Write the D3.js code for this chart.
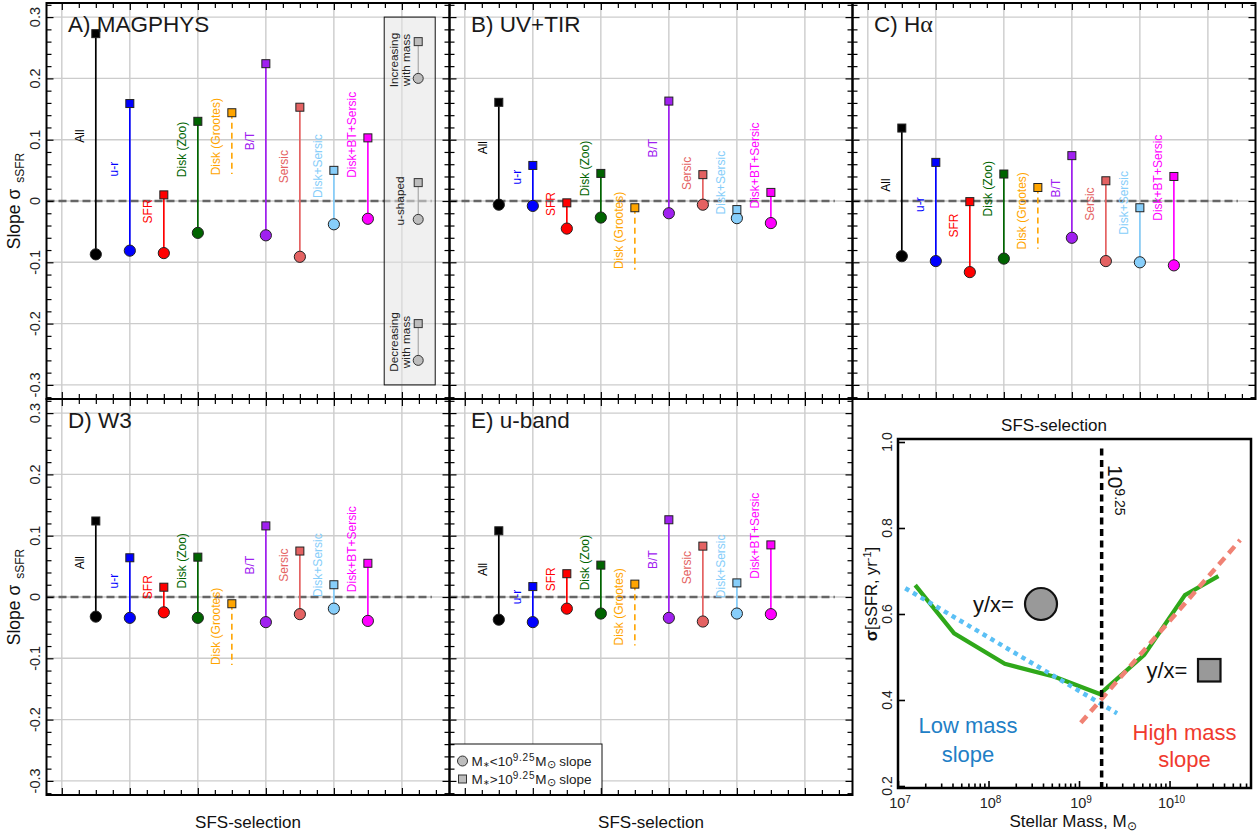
<!DOCTYPE html>
<html><head><meta charset="utf-8">
<script src="https://cdn.jsdelivr.net/npm/d3@7"></script>
<style>
body{margin:0;background:#fff}
svg{display:block;font-family:"Liberation Sans",Arial,Helvetica,sans-serif}
</style>
</head><body>
<svg id="c" width="1259" height="837"></svg>
<script>
// ---------------- DATA ----------------
const categories = ["All","u-r","SFR","Disk (Zoo)","Disk (Grootes)","B/T","Sersic","Disk+Sersic","Disk+BT+Sersic"];
const catColors  = ["#000000","#0000ff","#ff0000","#006400","#ffa500","#a020f0","#e46262","#87cefa","#ff00ff"];
const panelNames = ["A) MAGPHYS","B) UV+TIR","C) H\u03b1","D) W3","E) u-band"];

// slope above 10^9.25 (squares) and below (circles); null = not measured
const highA = [0.273, 0.159, 0.010, 0.130, 0.144, 0.224, 0.153, 0.050, 0.103];
const lowA  = [-0.087,-0.081,-0.085,-0.052, null,-0.056,-0.091,-0.038,-0.029];
const highB = [0.161, 0.058,-0.003, 0.045,-0.011, 0.163, 0.043,-0.014, 0.014];
const lowB  = [-0.006,-0.008,-0.045,-0.027, null,-0.020,-0.006,-0.028,-0.036];
const highC = [0.119, 0.063,-0.001, 0.044, 0.022, 0.074, 0.033,-0.011, 0.040];
const lowC  = [-0.090,-0.098,-0.116,-0.094, null,-0.060,-0.098,-0.100,-0.105];
const highD = [0.124, 0.064, 0.016, 0.065,-0.011, 0.116, 0.075, 0.020, 0.055];
const lowD  = [-0.032,-0.034,-0.025,-0.034, null,-0.041,-0.028,-0.019,-0.039];
const highE = [0.108, 0.017, 0.038, 0.052, 0.021, 0.126, 0.083, 0.023, 0.085];
const lowE  = [-0.037,-0.041,-0.019,-0.027, null,-0.034,-0.040,-0.027,-0.028];
// end of the dashed Grootes line, per panel
const grootesDashEnd = [0.044,-0.112,-0.078,-0.111,-0.079];
// label anchor (slope units) for each category label, per panel
const labelA = [0.106, 0.052,-0.017, 0.084, 0.105, 0.098, 0.056, 0.057, 0.108];
const labelB = [0.087, 0.039,-0.005, 0.053,-0.048, 0.086, 0.045, 0.030, 0.058];
const labelC = [0.026,-0.006,-0.040, 0.020,-0.016, 0.021,-0.005,-0.003, 0.038];
const labelD = [0.056, 0.026, 0.016, 0.059,-0.048, 0.052, 0.052, 0.052, 0.078];
const labelE = [0.045, 0.000, 0.029, 0.056,-0.016, 0.061, 0.048, 0.050, 0.100];

const yTickValues = [-0.3,-0.2,-0.1,0,0.1,0.2,0.3];
const yTickLabels = ["-0.3","-0.2","-0.1","0","0.1","0.2","0.3"];

// trend legend (panel A)
const trendSquares = [0.26, 0.03, -0.20];
const trendCircles = [0.20,-0.03, -0.26];
const trendText    = [["Increasing","with mass"],["u-shaped"],["Decreasing","with mass"]];
const trendTextY   = [0.23, 0.0, -0.23];

// inset: sigma(sSFR) vs log stellar mass
const insetLogMass = [7.19, 7.62, 8.18, 8.73, 9.23, 9.72, 10.17, 10.54];
const insetSigma   = [0.667,0.555,0.484,0.454,0.414,0.505,0.644,0.688];
const lowFitLogMass  = [7.08, 9.42];
const lowFitSigma    = [0.660, 0.369];
const highFitLogMass = [9.02, 10.78];
const highFitSigma   = [0.347, 0.772];
const breakLogMass = 9.25;
const insetYTicks = [0.2,0.4,0.6,0.8,1.0];
const insetYTickLabels = ["0.2","0.4","0.6","0.8","1.0"];
const insetDecades = [7,8,9,10];

// ---------------- DRAW ----------------
const svg = d3.select("#c");
const PW = 403, PH = 396;
const panels = [
  {name:panelNames[0], left:46.5, top:3,   high:highA, low:lowA, lab:labelA, dash:grootesDashEnd[0], yLab:true,  xTitle:false, trend:true},
  {name:panelNames[1], left:449.5,top:3,   high:highB, low:lowB, lab:labelB, dash:grootesDashEnd[1], yLab:false, xTitle:false},
  {name:panelNames[2], left:852.5,top:3,   high:highC, low:lowC, lab:labelC, dash:grootesDashEnd[2], yLab:false, xTitle:false},
  {name:panelNames[3], left:46.5, top:399, high:highD, low:lowD, lab:labelD, dash:grootesDashEnd[3], yLab:true,  xTitle:true},
  {name:panelNames[4], left:449.5,top:399, high:highE, low:lowE, lab:labelE, dash:grootesDashEnd[4], yLab:false, xTitle:true, massLegend:true}
];

const gridColor = "#cccccc";

panels.forEach(p => {
  const g = svg.append("g");
  const x = d3.scaleLinear().domain([-0.45, 11.4]).range([p.left, p.left+PW]);
  const y = d3.scaleLinear().domain([-0.323, 0.323]).range([p.top+PH, p.top]);
  const xi = i => x(i+1);

  // grid
  g.selectAll(".vg").data(d3.range(0, 11, 2)).join("line")
    .attr("x1", d=>x(d)).attr("x2", d=>x(d)).attr("y1", p.top).attr("y2", p.top+PH)
    .attr("stroke", gridColor).attr("stroke-width", 1.4);
  g.selectAll(".hg").data(yTickValues).join("line")
    .attr("x1", p.left).attr("x2", p.left+PW).attr("y1", d=>y(d)).attr("y2", d=>y(d))
    .attr("stroke", gridColor).attr("stroke-width", 1.4);

  // zero line
  g.append("line").attr("x1", x(-0.45)).attr("x2", x(10.88)).attr("y1", y(0)).attr("y2", y(0))
    .attr("stroke", "#666").attr("stroke-width", 2.3).attr("stroke-dasharray", "8,4");

  // stems
  categories.forEach((c, i) => {
    if (p.low[i] === null) {
      g.append("line").attr("x1", xi(i)).attr("x2", xi(i)).attr("y1", y(p.high[i])).attr("y2", y(p.dash))
        .attr("stroke", catColors[i]).attr("stroke-width", 1.6).attr("stroke-dasharray", "6,4");
    } else {
      g.append("line").attr("x1", xi(i)).attr("x2", xi(i)).attr("y1", y(p.high[i])).attr("y2", y(p.low[i]))
        .attr("stroke", catColors[i]).attr("stroke-width", 1.7);
    }
  });
  // circles
  categories.forEach((c, i) => {
    if (p.low[i] !== null)
      g.append("circle").attr("cx", xi(i)).attr("cy", y(p.low[i])).attr("r", 5.6)
        .attr("fill", catColors[i]).attr("stroke", "#222").attr("stroke-width", 1);
  });
  // squares
  categories.forEach((c, i) => {
    g.append("rect").attr("x", xi(i)-4).attr("y", y(p.high[i])-4).attr("width", 8).attr("height", 8)
      .attr("fill", catColors[i]).attr("stroke", "#222").attr("stroke-width", 1);
  });
  // labels
  categories.forEach((c, i) => {
    g.append("text").attr("transform", `translate(${xi(i)-12},${y(p.lab[i])}) rotate(-90)`)
      .attr("text-anchor", "middle").attr("font-size", 12).attr("fill", catColors[i]).text(c);
  });

  // trend legend
  if (p.trend) {
    const lg = g.append("g");
    lg.append("rect").attr("x", x(9.48)).attr("y", y(0.3)).attr("width", x(10.98)-x(9.48)).attr("height", y(-0.3)-y(0.3))
      .attr("fill", "#e3e3e3").attr("fill-opacity", 0.55).attr("stroke", "#111").attr("stroke-width", 1);
    trendSquares.forEach((s, k) => {
      lg.append("line").attr("x1", x(10.48)).attr("x2", x(10.48)).attr("y1", y(s)).attr("y2", y(trendCircles[k]))
        .attr("stroke", "#999").attr("stroke-width", 1);
      lg.append("circle").attr("cx", x(10.48)).attr("cy", y(trendCircles[k])).attr("r", 5)
        .attr("fill", "#bdbdbd").attr("stroke", "#333").attr("stroke-width", 1);
      lg.append("rect").attr("x", x(10.48)-4).attr("y", y(s)-4).attr("width", 8).attr("height", 8)
        .attr("fill", "#bdbdbd").attr("stroke", "#333").attr("stroke-width", 1);
      const lines = trendText[k];
      lines.forEach((t, j) => {
        const bx = lines.length === 1 ? x(10.07) : (j === 0 ? x(9.9) : x(10.24));
        lg.append("text").attr("transform", `translate(${bx},${y(trendTextY[k])}) rotate(-90)`)
          .attr("text-anchor", "middle").attr("font-size", 11.8).attr("fill", "#222").text(t);
      });
    });
  }

  // mass legend
  if (p.massLegend) {
    const lg = g.append("g");
    lg.append("rect").attr("x", p.left+0.5).attr("y", 744).attr("width", 152).attr("height", p.top+PH-744)
      .attr("fill", "#fff").attr("stroke", "#111").attr("stroke-width", 1);
    lg.append("circle").attr("cx", p.left+13).attr("cy", 761).attr("r", 5)
      .attr("fill", "#bdbdbd").attr("stroke", "#333");
    lg.append("rect").attr("x", p.left+9).attr("y", 775).attr("width", 8).attr("height", 8)
      .attr("fill", "#bdbdbd").attr("stroke", "#333");
    [["<", 765.5], [">", 783.5]].forEach(([op, by]) => {
      const t = lg.append("text").attr("x", p.left+22).attr("y", by).attr("font-size", 13.5).attr("fill", "#222");
      t.append("tspan").text("M");
      t.append("tspan").attr("font-size", 8).attr("dy", 1).text("\u2217");
      t.append("tspan").attr("dy", -1).text(op + "10");
      t.append("tspan").attr("font-size", 10).attr("dy", -5).attr("letter-spacing", 0.8).text("9.25");
      t.append("tspan").attr("dy", 5).text("M");
      t.append("tspan").attr("font-size", 10.5).attr("dy", 2).text("\u2299");
      t.append("tspan").attr("dy", -2).text(" slope");
    });
  }

  // ticks on all four sides (inward)
  const xt = d3.range(0, 11.01, 0.5);
  const xMaj = xt.filter(v => v % 2 === 0), xMin = xt.filter(v => v % 2 !== 0);
  const yt = d3.range(-0.32, 0.321, 0.02).map(v => +v.toFixed(2));
  const yMaj = yt.filter(v => Math.abs(Math.round(v*10) - v*10) < 1e-6);
  const yMin = yt.filter(v => !yMaj.includes(v));
  const strip = s => { s.select(".domain").remove(); s.selectAll("line").attr("stroke", "#000").attr("stroke-width", 1.2); };
  const add = (axis, tr) => g.append("g").attr("transform", tr).call(axis).call(strip);
  add(d3.axisTop(x).tickValues(xMaj).tickSize(7).tickFormat(""), `translate(0,${p.top+PH})`);
  add(d3.axisTop(x).tickValues(xMin).tickSize(5).tickFormat(""), `translate(0,${p.top+PH})`);
  add(d3.axisBottom(x).tickValues(xMaj).tickSize(7).tickFormat(""), `translate(0,${p.top})`);
  add(d3.axisBottom(x).tickValues(xMin).tickSize(5).tickFormat(""), `translate(0,${p.top})`);
  add(d3.axisRight(y).tickValues(yMaj).tickSize(7).tickFormat(""), `translate(${p.left},0)`);
  add(d3.axisRight(y).tickValues(yMin).tickSize(5).tickFormat(""), `translate(${p.left},0)`);
  add(d3.axisLeft(y).tickValues(yMaj).tickSize(7).tickFormat(""), `translate(${p.left+PW},0)`);
  add(d3.axisLeft(y).tickValues(yMin).tickSize(5).tickFormat(""), `translate(${p.left+PW},0)`);

  // frame
  g.append("rect").attr("x", p.left).attr("y", p.top).attr("width", PW).attr("height", PH)
    .attr("fill", "none").attr("stroke", "#000").attr("stroke-width", 2);

  // title
  const tt = g.append("text").attr("x", p.left+21.5).attr("y", p.top+29).attr("font-size", 22.5).attr("fill", "#1a1a1a");
  if (p.name.endsWith("\u03b1")) {
    tt.append("tspan").text(p.name.slice(0, -1));
    tt.append("tspan").attr("font-family", "'Liberation Serif','DejaVu Serif',serif").attr("font-size", 24).text("\u03b1");
  } else tt.text(p.name);

  // y tick labels + title
  if (p.yLab) {
    yTickValues.forEach((v, k) => {
      g.append("text").attr("transform", `translate(40,${y(v)}) rotate(-90)`).attr("text-anchor", "middle")
        .attr("font-size", 14.5).attr("fill", "#222").text(yTickLabels[k]);
    });
    const yt2 = g.append("text").attr("transform", `translate(20,${y(0)}) rotate(-90)`).attr("text-anchor", "middle")
      .attr("fill", "#111");
    yt2.append("tspan").attr("font-size", 17.5).text("Slope \u03c3");
    yt2.append("tspan").attr("font-size", 12).attr("dx", 6).attr("dy", 4).text("sSFR");
  }
  if (p.xTitle) {
    g.append("text").attr("x", p.left+PW/2).attr("y", 828).attr("text-anchor", "middle")
      .attr("font-size", 17).attr("fill", "#111").text("SFS-selection");
  }
});

// ---------------- INSET ----------------
const ig = svg.append("g");
const IL = 898, IR = 1251, IT = 439, IB = 788;
const xm = d3.scaleLog().domain([1e7, Math.pow(10, 10.9)]).range([IL, IR]);
const ym = d3.scaleLinear().domain([0.1953, 1.007]).range([IB, IT]);

ig.append("text").attr("x", 1054).attr("y", 431).attr("text-anchor", "middle").attr("font-size", 17)
  .attr("fill", "#111").text("SFS-selection");

const lineGen = d3.line().x(d => xm(Math.pow(10, d[0]))).y(d => ym(d[1]));
ig.append("path").attr("d", lineGen(d3.zip(insetLogMass, insetSigma)))
  .attr("fill", "none").attr("stroke", "#2fa81a").attr("stroke-width", 4.2).attr("stroke-linejoin", "miter");
ig.append("path").attr("d", lineGen(d3.zip(lowFitLogMass, lowFitSigma)))
  .attr("fill", "none").attr("stroke", "#5bc0f5").attr("stroke-width", 4.5).attr("stroke-dasharray", "4.5,4.5");
ig.append("path").attr("d", lineGen(d3.zip(highFitLogMass, highFitSigma)))
  .attr("fill", "none").attr("stroke", "#f08274").attr("stroke-width", 4.5).attr("stroke-dasharray", "9,6");
ig.append("line").attr("x1", xm(Math.pow(10, breakLogMass))).attr("x2", xm(Math.pow(10, breakLogMass)))
  .attr("y1", ym(0.985)).attr("y2", IB).attr("stroke", "#000").attr("stroke-width", 3.5).attr("stroke-dasharray", "7,4.5");

// break label
const bl = ig.append("text").attr("transform", `translate(${xm(Math.pow(10, breakLogMass))+6},465) rotate(90)`)
  .attr("font-size", 21).attr("fill", "#111");
bl.append("tspan").text("10");
bl.append("tspan").attr("font-size", 14).attr("dy", -7).text("9.25");

// y/x markers
ig.append("text").attr("x", 973).attr("y", 611.5).attr("font-size", 22).attr("fill", "#111").text("y/x=");
ig.append("circle").attr("cx", 1041).attr("cy", 604).attr("r", 16).attr("fill", "#999").attr("stroke", "#111").attr("stroke-width", 2.2);
ig.append("text").attr("x", 1146.5).attr("y", 678).attr("font-size", 22).attr("fill", "#111").text("y/x=");
ig.append("rect").attr("x", 1198).attr("y", 659).attr("width", 22.5).attr("height", 22.5).attr("fill", "#999").attr("stroke", "#111").attr("stroke-width", 2.2);

// annotations
[["Low mass", 733], ["slope", 761.5]].forEach(([t, by]) =>
  ig.append("text").attr("x", 968).attr("y", by).attr("text-anchor", "middle").attr("font-size", 22).attr("fill", "#1f80c6").text(t));
[["High mass", 739.5], ["slope", 766.5]].forEach(([t, by]) =>
  ig.append("text").attr("x", 1184.5).attr("y", by).attr("text-anchor", "middle").attr("font-size", 22).attr("fill", "#f03a2e").text(t));

// inset axes
const minorMass = [];
insetDecades.forEach(d => { for (let k = 2; k <= 9; k++) { const v = k*Math.pow(10, d); if (v < Math.pow(10, 10.9)) minorMass.push(v); } });
const majorMass = insetDecades.map(d => Math.pow(10, d));
const strip2 = s => { s.select(".domain").remove(); s.selectAll("line").attr("stroke", "#000").attr("stroke-width", 1.6); };
ig.append("g").attr("transform", `translate(0,${IB})`).call(d3.axisTop(xm).tickValues(minorMass).tickSize(4.5).tickFormat("")).call(strip2);
ig.append("g").attr("transform", `translate(0,${IB})`).call(d3.axisTop(xm).tickValues(majorMass).tickSize(7).tickFormat("")).call(strip2);
ig.append("g").attr("transform", `translate(${IL},0)`).call(d3.axisRight(ym).tickValues(insetYTicks).tickSize(7).tickFormat("")).call(strip2);

insetDecades.forEach(d => {
  const t = ig.append("text").attr("x", xm(Math.pow(10, d))+2).attr("y", 807.5).attr("text-anchor", "middle")
    .attr("font-size", 14.5).attr("fill", "#222");
  t.append("tspan").text("10");
  t.append("tspan").attr("font-size", 10).attr("dy", -5).text(String(d));
});
insetYTicks.forEach((v, k) => {
  ig.append("text").attr("transform", `translate(892,${ym(v)}) rotate(-90)`).attr("text-anchor", "middle")
    .attr("font-size", 14).attr("fill", "#222").text(insetYTickLabels[k]);
});
const yl = ig.append("text").attr("transform", `translate(876.5,594) rotate(-90)`).attr("text-anchor", "middle")
  .attr("font-size", 16.5).attr("fill", "#111");
yl.append("tspan").attr("font-weight", "bold").text("\u03c3");
yl.append("tspan").text("[sSFR, yr");
yl.append("tspan").attr("font-size", 11).attr("dy", -6).text("-1");
yl.append("tspan").attr("dy", 6).text("]");

const xl = ig.append("text").attr("x", 1073).attr("y", 826.5).attr("text-anchor", "middle").attr("font-size", 17).attr("fill", "#111");
xl.append("tspan").text("Stellar Mass, M");
xl.append("tspan").attr("font-size", 12).attr("dy", 3).text("\u2299");

ig.append("rect").attr("x", IL).attr("y", IT).attr("width", IR-IL).attr("height", IB-IT)
  .attr("fill", "none").attr("stroke", "#000").attr("stroke-width", 2.5);
</script>
</body></html>
